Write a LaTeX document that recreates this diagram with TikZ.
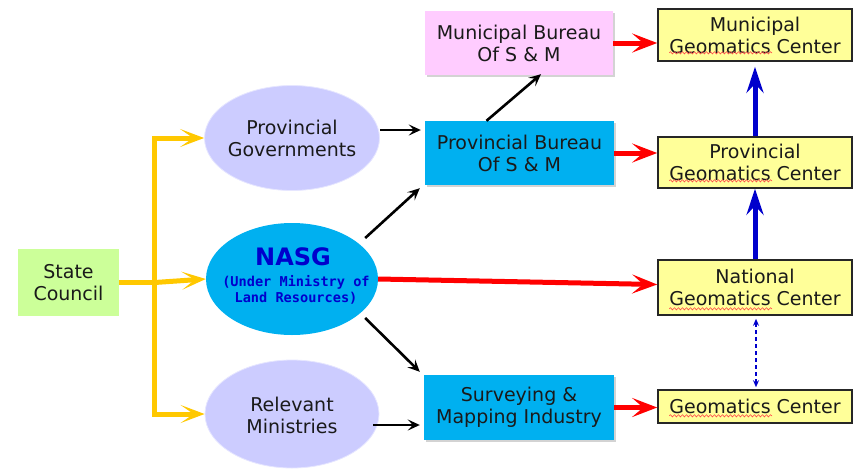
\documentclass[tikz,border=0pt]{standalone}
\usepackage{fontspec}
\setmainfont{DejaVu Sans}
\setmonofont{DejaVu Sans Mono}
\usetikzlibrary{arrows.meta,shapes.geometric,calc,decorations.pathmorphing,shadows}
\definecolor{scgreen}{HTML}{CCFF99}
\definecolor{lav}{HTML}{CCCCFF}
\definecolor{cyanb}{HTML}{00B0F0}
\definecolor{pinkb}{HTML}{FFCCFF}
\definecolor{yelb}{HTML}{FFFF99}
\definecolor{gold}{HTML}{FFC800}
\definecolor{redA}{HTML}{FF0000}
\definecolor{blueA}{HTML}{0000CC}
\definecolor{txt}{HTML}{1A1A1A}
\tikzset{
  lbl/.style={font=\fontsize{19}{22}\selectfont, text=txt, align=center},
  sqbox/.style={lbl, rectangle, inner sep=0pt},
  shad/.style={drop shadow={shadow xshift=1.5pt, shadow yshift=-1.5pt, opacity=0.35, fill=gray}},
  ellshape/.style={ellipse, inner sep=0pt},
  txtnode/.style={lbl, inner sep=0pt},
  gcbox/.style={sqbox, fill=yelb, draw=black!85, line width=1.6pt, minimum width=194pt},
  yarr/.style={draw=gold, line width=5pt, -{Stealth[length=24pt,width=18pt,inset=13pt]}},
  rarr/.style={draw=redA, line width=5pt, -{Stealth[length=25pt,width=19pt,inset=11pt]}},
  barr/.style={draw=black, line width=2.6pt, -{Stealth[length=12pt,width=11pt,inset=5pt]}},
  bluearr/.style={draw=blueA, line width=5pt, -{Stealth[length=26pt,width=17pt,inset=9pt]}},
  dasharr/.style={draw=blueA, line width=1.3pt, dash pattern=on 4pt off 3pt, {Stealth[length=7pt,width=6pt]}-{Stealth[length=7pt,width=6pt]}},
  wavy/.style={draw=red!70, line width=0.6pt, decorate, decoration={snake, amplitude=1.1pt, segment length=4pt}}
}
\begin{document}
\begin{tikzpicture}[x=1pt,y=-1pt]
\useasboundingbox (0,0) rectangle (858,469);
% left
\node[sqbox, fill=scgreen, minimum width=101pt, minimum height=67pt] (sc) at (68.5,282.5) {State\\Council};
\node[ellshape, fill=lav, draw=lav!50!white, line width=0.8pt, minimum width=175pt, minimum height=105pt] (pg) at (292,138) {};
\node[txtnode] (pgt) at (pg.center) {Provincial\\Governments};
\node[ellshape, fill=cyanb, minimum width=172pt, minimum height=112pt] (nasg) at (292,279) {};
\node[inner sep=0pt, text=blueA, font=\fontsize{24}{26}\selectfont\bfseries] (nasgt) at (293,257) {NASG};
\node[inner sep=0pt, text=blueA, align=center, font=\fontsize{13.6}{16}\selectfont\ttfamily\bfseries] (nasgs) at (296,290) {(Under Ministry of\\Land Resources)};
\node[ellshape, fill=lav, draw=lav!50!white, line width=0.8pt, minimum width=174pt, minimum height=108pt] (rm) at (292,414) {};
\node[txtnode] (rmt) at ($(rm.center)+(0,1)$) {Relevant\\Ministries};
% middle
\node[sqbox, shad, fill=pinkb, minimum width=188pt, minimum height=64pt] (mb) at (519,43) {Municipal Bureau\\Of S \& M};
\node[sqbox, shad, fill=cyanb, minimum width=189pt, minimum height=64pt] (pb) at (519.5,153) {Provincial Bureau\\Of S \& M};
\node[sqbox, shad, fill=cyanb, minimum width=190pt, minimum height=65pt] (sm) at (519,407.5) {Surveying \&\\Mapping Industry};
% right
\node[gcbox, minimum height=52pt] (mgc) at (755,35) {Municipal\\Geomatics Center};
\node[gcbox, minimum height=51pt] (pgc) at (755,162.5) {Provincial\\Geomatics Center};
\node[gcbox, minimum height=55pt] (ngc) at (755,287.5) {National\\Geomatics Center};
\node[gcbox, minimum height=33pt] (gc) at (755,406.5) {Geomatics Center};
% yellow connectors
\coordinate (jn) at ($(sc.east)+(35.5,0)$);
\coordinate (jt) at (jn |- pg.west);
\coordinate (jb) at (jn |- rm.west);
\draw[draw=gold, line width=5pt] (sc.east) -- (jn);
\draw[draw=gold, line width=5pt, line cap=rect] (jt) -- (jb);
\draw[yarr] (jt) -- (pg.west);
\draw[yarr] (jn) -- (nasg.west);
\draw[yarr] (jb) -- (rm.west);
% black connectors
\draw[barr] ($(pg.east)+(0,-8)$) -- ($(pb.west)+(-4,-23)$);
\draw[barr] ($(nasg.east)+(-13,-41)$) -- ($(pb.south west)+(-5,3)$);
\draw[barr] ($(nasg.east)+(-13,39)$) -- ($(sm.north west)+(-4,-3)$);
\draw[barr] ($(rm.east)+(-6,11)$) -- ($(sm.west)+(-4,17.5)$);
\draw[barr] ($(pb.north)+(-33,0)$) -- ($(mb.south)+(22,-1)$);
% red connectors
\draw[rarr] (mb.east) -- (mb.east -| mgc.west);
\draw[rarr] (pb.east) -- (pb.east -| pgc.west);
\draw[rarr] (nasg.east) -- ($(ngc.west)+(0,-3)$);
\draw[rarr] (sm.east) -- (sm.east -| gc.west);
% blue connectors
\draw[bluearr] (ngc.north) -- (pgc.south);
\draw[bluearr] (pgc.north) -- ($(mgc.south)+(0,5)$);
\draw[dasharr] ($(ngc.south)+(1,3)$) -- ($(gc.north)+(1,-2)$);
% spell-check underlines
\draw[wavy] ($(mgc.south west)+(12,-9)$) -- ++(103,0);
\draw[wavy] ($(pgc.south west)+(12,-8)$) -- ++(103,0);
\draw[wavy] ($(ngc.south west)+(12,-7)$) -- ++(103,0);
\draw[wavy] ($(gc.south west)+(12,-8)$) -- ++(103,0);
\end{tikzpicture}
\end{document}
